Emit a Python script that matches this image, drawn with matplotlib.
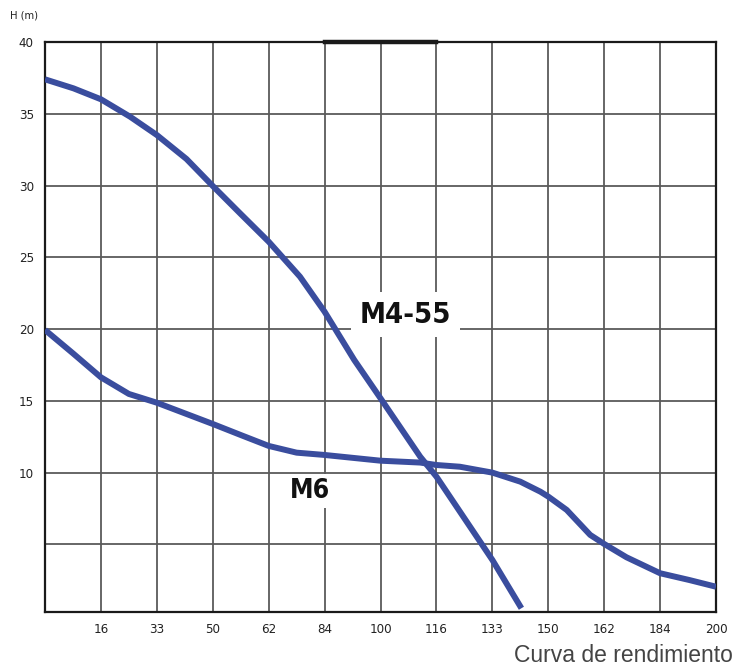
import matplotlib
matplotlib.use("Agg")
from matplotlib import pyplot as plt

# x positions are evenly spaced grid columns, labelled with flow values
flowLabels = ["16", "33", "50", "62", "84", "100", "116", "133", "150", "162", "184", "200"]

m455X = [0, 0.51, 1, 1.52, 2, 2.53, 3, 3.5, 4, 4.56, 5, 5.53, 6, 6.71, 7, 8, 8.52]
m455H = [37.4, 36.77, 36.01, 34.8, 33.52, 31.85, 29.97, 28.02, 26.09, 23.65, 21.21, 17.85, 15.18, 11.11, 9.72, 3.92, 0.55]

m6X = [0, 0.5, 1, 1.5, 2, 2.5, 3, 3.5, 4, 4.5, 5, 6, 6.71, 7, 7.42, 8, 8.5, 8.86, 9, 9.33, 9.75, 10, 10.4, 11, 11.52, 12]
m6H = [19.94, 18.31, 16.64, 15.48, 14.87, 14.13, 13.39, 12.62, 11.86, 11.39, 11.23, 10.83, 10.7, 10.53, 10.41, 10.0,
       9.37, 8.67, 8.33, 7.4, 5.66, 5.03, 4.1, 2.99, 2.52, 2.05]

yTicks = [10, 15, 20, 25, 30, 35, 40]
gridRows = [5, 10, 15, 20, 25, 30, 35]

lineColor = "#3a4d9e"
condensed = ["DejaVu Sans"]

fig = plt.figure(figsize=(7.35, 6.69), dpi=100)
ax = fig.add_axes([45 / 735, 57.3 / 669, 671 / 735, 569.7 / 669])

ax.set_xlim(0, 12)
ax.set_ylim(0.31, 40)

for row in gridRows:
    ax.axhline(row, color="#5a5a5a", lw=1.3, zorder=1)
for col in range(1, 12):
    ax.axvline(col, color="#5a5a5a", lw=1.3, zorder=1)

ax.plot(m455X, m455H, color=lineColor, lw=4.3, solid_joinstyle="round", solid_capstyle="butt", zorder=3)
ax.plot(m6X, m6H, color=lineColor, lw=4.3, solid_joinstyle="round", solid_capstyle="butt", zorder=3)

for s in ax.spines.values():
    s.set_linewidth(1.6)
    s.set_color("#1a1a1a")
ax.axhline(40, xmin=5 / 12, xmax=7 / 12, color="#1a1a1a", lw=3.2, clip_on=False, zorder=4)

ax.set_xticks(range(1, 13))
ax.set_xticklabels(flowLabels, family=condensed, stretch="condensed", fontsize=9.5, color="#222222")
ax.set_yticks(yTicks)
ax.set_yticklabels([str(v) for v in yTicks], family=condensed, stretch="condensed", fontsize=9.5, color="#222222")
ax.tick_params(length=0, pad=8)

ax.text(6.44, 21.0, "M4-55", fontsize=21, fontweight="bold", family=condensed, stretch="condensed",
        color="#111111", ha="center", va="center", zorder=5,
        bbox=dict(boxstyle="square,pad=0.3", fc="white", ec="none"))
ax.text(4.74, 8.7, "M6", fontsize=19, fontweight="bold", family=condensed, stretch="condensed",
        color="#111111", ha="center", va="center", zorder=5,
        bbox=dict(boxstyle="square,pad=0.15", fc="white", ec="none"))

fig.text(10 / 735, 1 - 15 / 669, "H (m)", family=condensed, stretch="condensed", fontsize=8,
         color="#222222", va="center")
fig.text(733 / 735, 1 - 655 / 669, "Curva de rendimiento", family="Liberation Sans", fontsize=16.5,
         color="#444444", ha="right", va="center")

fig.savefig("out.png", dpi=100)
